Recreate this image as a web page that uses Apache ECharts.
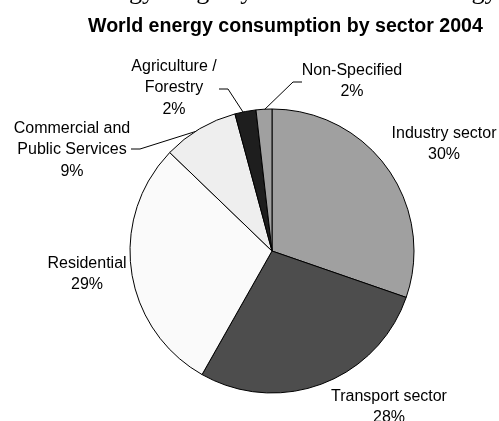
<!DOCTYPE html>
<html>
<head>
<meta charset="utf-8">
<script src="https://cdn.jsdelivr.net/npm/echarts@6/dist/echarts.min.js"></script>
<style>
  html, body { margin: 0; padding: 0; background: #fff; }
  #main { width: 499px; height: 421px; }
</style>
</head>
<body>
<div id="main"></div>
<script>
// sectors, clockwise from 12 o'clock
var sectors = ['Industry sector', 'Transport sector', 'Residential', 'Commercial and\nPublic Services', 'Agriculture /\nForestry', 'Non-Specified'];
var shares = [30.3, 27.9, 29.0, 8.6, 2.4, 1.8];
var sliceColors = ['#a0a0a0', '#4d4d4d', '#fafafa', '#eeeeee', '#1e1e1e', '#a0a0a0'];
var withLine = [false, false, false, true, true, true];

// where each label sits, and its leader line (only used where withLine)
var labelSpots = [
    { x: 444, y: 144 },
    { x: 389, y: 407 },
    { x: 87, y: 274 },
    { x: 72, y: 150, line: [[197, 131], [140, 149], [131, 149]] },
    { x: 174, y: 88, line: [[243, 112], [228, 89], [219, 89]] },
    { x: 352, y: 81, line: [[263, 111], [293, 82], [302, 82]] }
];

var chart = echarts.init(document.getElementById('main'));

var pieData = sectors.map(function (name, i) {
    return {
        name: name,
        value: shares[i],
        itemStyle: { color: sliceColors[i] },
        labelLine: { show: withLine[i], lineStyle: { color: '#000', width: 1 } }
    };
});

chart.setOption({
    animation: false,
    backgroundColor: '#fff',
    title: {
        text: 'World energy consumption by sector 2004',
        left: 83,
        top: 12,
        textStyle: {
            fontFamily: 'Liberation Sans',
            fontWeight: 'bold',
            fontSize: 19.6,
            color: '#000'
        }
    },
    graphic: [{
        // clipped line of the page above, only descenders show
        type: 'text',
        left: 14,
        top: -21,
        style: {
            text: 'World energy usage by sector of all the energy',
            font: '26px "Liberation Serif"',
            fill: '#000'
        }
    }],
    series: [{
        type: 'pie',
        center: [272, 251],
        radius: 142,
        startAngle: 90,
        clockwise: true,
        itemStyle: { borderColor: '#000', borderWidth: 1 },
        emphasis: { disabled: true },
        label: {
            show: true,
            position: 'outside',
            overflow: 'none',
            formatter: function (p) { return p.name + '\n' + Math.round(p.percent) + '%'; },
            fontFamily: 'Liberation Sans',
            fontSize: 16,
            lineHeight: 21.5,
            color: '#000',
            align: 'center',
            verticalAlign: 'middle'
        },
        labelLine: { show: true },
        labelLayout: function (p) {
            var s = labelSpots[p.dataIndex];
            var out = { x: s.x, y: s.y, align: 'center', verticalAlign: 'middle' };
            if (s.line) out.labelLinePoints = s.line;
            return out;
        },
        data: pieData
    }]
});
</script>
</body>
</html>
